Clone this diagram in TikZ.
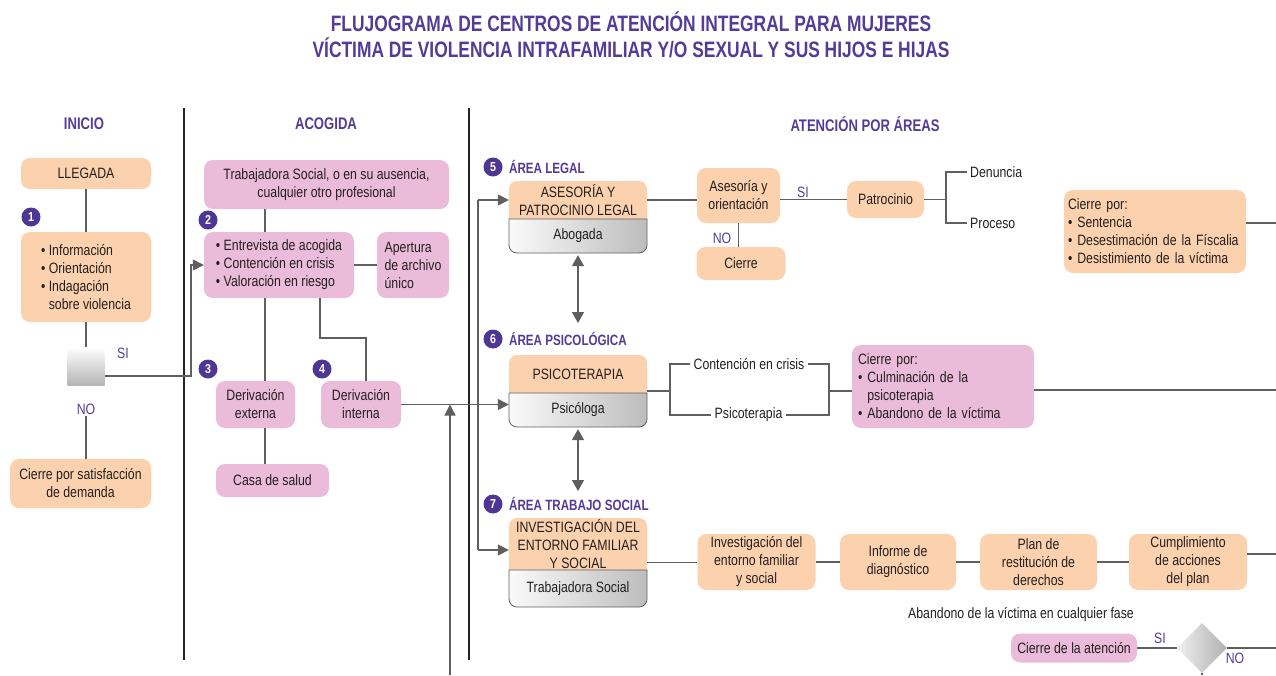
\documentclass[tikz,border=0pt]{standalone}
\usepackage{fontspec}
\setmainfont{Liberation Sans}[FakeStretch=0.82]
\newfontfamily\titlefont{Liberation Sans}[FakeStretch=0.78]
\usetikzlibrary{shapes.geometric,arrows.meta}
\definecolor{peachc}{RGB}{252,210,174}
\definecolor{pinkc}{RGB}{235,188,217}
\definecolor{purp}{RGB}{84,59,151}
\definecolor{circc}{RGB}{78,55,148}
\definecolor{linec}{RGB}{95,95,95}
\definecolor{sepc}{RGB}{35,35,35}
\definecolor{txtc}{RGB}{35,31,32}
\newcommand{\bodyfont}{\fontsize{15pt}{18pt}\selectfont}
\newcommand{\areabox}[8]{%
  \fill[peachc] (#2,#5) -- (#2,#4+8) arc[start angle=180,end angle=90,radius=8pt] -- (#3-8,#4) arc[start angle=90,end angle=0,radius=8pt] -- (#3,#5) -- cycle;
  \shadedraw[left color=gray!4, right color=gray!52, draw=gray!75!black, line width=0.8pt] (#2,#5) -- (#2,#6-8) arc[start angle=180,end angle=270,radius=8pt] -- (#3-8,#6) arc[start angle=270,end angle=360,radius=8pt] -- (#3,#5) -- cycle;
  \node[base, inner sep=0, minimum width={(#3-#2)*1pt}, minimum height={(#5-#4)*1pt}] (#1t) at ({(#2+#3)/2},{(#4+#5)/2}) {#7};
  \node[base, inner sep=0, minimum width={(#3-#2)*1pt}, minimum height={(#6-#5)*1pt}] (#1b) at ({(#2+#3)/2},{(#5+#6)/2}) {#8};
  \node[inner sep=0, minimum width={(#3-#2)*1pt}, minimum height={(#6-#4)*1pt}] (#1) at ({(#2+#3)/2},{(#4+#6)/2}) {};
}
\tikzset{
  base/.style={font=\bodyfont, text=txtc, align=center, inner sep=2pt},
  pbox/.style={base, fill=peachc, rounded corners=9pt},
  kbox/.style={base, fill=pinkc, rounded corners=9pt},
  num/.style={circle, fill=circc, text=white, font=\bfseries\fontsize{13pt}{13pt}\selectfont, minimum size=19pt, inner sep=0},
  lab/.style={font=\bodyfont, text=purp, inner sep=1pt},
  plain/.style={font=\bodyfont, text=txtc, inner sep=3pt},
  head/.style={font=\titlefont\bfseries\fontsize{16.8pt}{19pt}\selectfont, text=purp},
  area/.style={font=\titlefont\bfseries\fontsize{14.9pt}{17pt}\selectfont, text=purp, anchor=west, inner sep=0},
  conn/.style={draw=linec, line width=1.4pt},
  arr/.style={conn, -{Triangle[length=11pt,width=11pt]}},
  darr/.style={conn, {Triangle[length=11pt,width=12pt]}-{Triangle[length=11pt,width=12pt]}},
  sepline/.style={draw=sepc, line width=2pt},
}
\begin{document}
\begin{tikzpicture}[x=1pt,y=-1pt]
\useasboundingbox (0,0) rectangle (1276,675);
% title
\node[font=\titlefont\bfseries\fontsize{22.3pt}{26pt}\selectfont, text=purp, align=center] (title) at (631,35)
  {FLUJOGRAMA DE CENTROS DE ATENCIÓN INTEGRAL PARA MUJERES\\VÍCTIMA DE VIOLENCIA INTRAFAMILIAR Y/O SEXUAL Y SUS HIJOS E HIJAS};
% headers
\node[head] (h1) at (84,124) {INICIO};
\node[head] (h2) at (326,124) {ACOGIDA};
\node[head] (h3) at (865,124) {ATENCIÓN POR ÁREAS};
% separators
\draw[sepline] (184,108) -- (184,660);
\draw[sepline] (469,108) -- (469,660);

% ---------- INICIO
\node[pbox, minimum width=130pt, minimum height=31pt] (llegada) at (86,173.5) {LLEGADA};
\node[num] (n1) at (31,217) {1};
\node[pbox, minimum width=130pt, minimum height=90pt, align=left] (info) at (86,277)
  {\textbullet\ Información\\\textbullet\ Orientación\\\textbullet\ Indagación\\\phantom{\textbullet\ }sobre violencia};
\node[minimum width=37pt, minimum height=38pt, inner sep=0, top color=white, bottom color=gray!58] (dec) at (86,366) {};
\node[lab] (si1) at (123,353) {SI};
\node[lab] (no1) at (86,409) {NO};
\node[pbox, minimum width=141pt, minimum height=49pt] (cierre1) at (80.5,483.5) {Cierre por satisfacción\\de demanda};
\draw[conn] (llegada.south) -- (info.north);
\draw[conn] (info.south) -- (dec.north);
\draw[conn] (no1.south) -- (no1.south |- cierre1.north);

% ---------- ACOGIDA
\node[kbox, minimum width=245pt, minimum height=49pt] (trab) at (326.5,184.5) {Trabajadora Social, o en su ausencia,\\cualquier otro profesional};
\node[num] (n2) at (208,220) {2};
\node[kbox, minimum width=150pt, minimum height=66pt, align=left] (entrev) at (279,265)
  {\textbullet\ Entrevista de acogida\\\textbullet\ Contención en crisis\\\textbullet\ Valoración en riesgo};
\node[kbox, minimum width=72pt, minimum height=66pt, align=left] (apert) at (413,265) {Apertura\\de archivo\\único};
\node[num] (n3) at (208,369) {3};
\node[num] (n4) at (322,369) {4};
\node[kbox, minimum width=79pt, minimum height=47pt] (derext) at (255.5,404.5) {Derivación\\externa};
\node[kbox, minimum width=80pt, minimum height=47pt] (derint) at (361,404.5) {Derivación\\interna};
\node[kbox, minimum width=113pt, minimum height=33pt] (casa) at (272.5,480.5) {Casa de salud};
\coordinate (ax) at (265,300);
\coordinate (k1) at (320,338);
\coordinate (k2) at (366,338);
\draw[conn] (trab.south -| ax) -- (entrev.north -| ax);
\draw[conn] (entrev.south -| ax) -- (derext.north -| ax);
\draw[conn] (derext.south -| ax) -- (casa.north -| ax);
\draw[conn] (entrev.south -| k1) -- (k1) -- (k2) -- (derint.north -| k2);
\draw[conn] (entrev.east) -- (apert.west);
\draw[arr] ([yshift=-10pt]dec.east) -| ([xshift=-13pt]entrev.west) -- (entrev.west);

% ---------- AREAS
\node[num] (n5) at (493,167) {5};
\node[area] (l5) at (509,167) {ÁREA LEGAL};
\areabox{legal}{509}{647}{181}{219}{253}{ASESORÍA Y\\PATROCINIO LEGAL}{Abogada}
\node[num] (n6) at (493,339) {6};
\node[area] (l6) at (509,339) {ÁREA PSICOLÓGICA};
\areabox{psic}{509}{647}{355}{393}{427}{PSICOTERAPIA}{Psicóloga}
\node[num] (n7) at (493,504) {7};
\node[area] (l7) at (509,504) {ÁREA TRABAJO SOCIAL};
\areabox{soc}{509}{647}{518}{570}{607}{INVESTIGACIÓN DEL\\ENTORNO FAMILIAR\\Y SOCIAL}{Trabajadora Social}

\coordinate (vt) at (478,200);
\coordinate (vb) at (478,550);
\draw[conn] (vt) -- (vb);
\draw[arr] (vt) -- (vt -| legalt.west);
\draw[arr] (vb) -- (vb -| soct.west);
\draw[arr] (derint.east) -- (derint.east -| psicb.west);
\coordinate (up) at (450,675);
\draw[arr] (up) -- (up |- derint.east);
\coordinate (d1) at (578,323);
\coordinate (d2) at (578,491);
\draw[darr] ([yshift=-2pt]legal.south) -- (d1);
\draw[darr] ([yshift=-2pt]psic.south) -- (d2);

% legal flow
\node[pbox, minimum width=83pt, minimum height=55pt] (aso) at (738.5,195.5) {Asesoría y\\orientación};
\node[pbox, minimum width=77pt, minimum height=37pt] (patro) at (885.5,199.5) {Patrocinio};
\node[pbox, minimum width=89pt, minimum height=33pt] (cierreL) at (741,263.5) {Cierre};
\node[lab] (si2) at (803,192) {SI};
\node[lab] (no2) at (722,238) {NO};
\draw[conn] (legalt.east) -- (legalt.east -| aso.west);
\draw[conn] (aso.east |- patro.west) -- (patro.west);
\draw[conn] (aso.south) -- (aso.south |- cierreL.north);
\node[plain, anchor=west] (den) at (967,172) {Denuncia};
\node[plain, anchor=west] (proc) at (967,223) {Proceso};
\coordinate (pb) at (946,199.5);
\draw[conn] (patro.east) -- (pb);
\draw[conn] (den.west) -| (pb) |- (proc.west);
\node[pbox, minimum height=83pt, text width=174pt, inner xsep=4pt, align=left] (cierreLp) at (1155,231.5)
  {Cierre por:\\\textbullet\ Sentencia\\\textbullet\ Desestimación de la Físcalia\\\textbullet\ Desistimiento de la víctima};
\coordinate (eL) at (1276,223);
\draw[conn] (eL -| cierreLp.east) -- (eL);

% psych flow
\node[plain] (cc) at (749,364) {Contención en crisis};
\node[plain] (pt) at (748.5,415) {Psicoterapia};
\coordinate (pL) at (670,391);
\coordinate (pR) at (829,391);
\draw[conn] (psic.east) -- (pL);
\draw[conn] (cc.west) -| (pL) |- (pt.west);
\draw[conn] (cc.east) -| (pR) |- (pt.east);
\node[kbox, minimum height=83pt, text width=170pt, inner xsep=6pt, align=left] (cierreP) at (943,386.5)
  {Cierre por:\\\textbullet\ Culminación de la\\\phantom{\textbullet\ }psicoterapia\\\textbullet\ Abandono de la víctima};
\draw[conn] (pR) -- (pR -| cierreP.west);
\coordinate (eP) at (1276,390);
\draw[conn] (eP -| cierreP.east) -- (eP);

% social flow
\node[pbox, minimum width=118pt, minimum height=56pt] (inv) at (756.5,562) {Investigación del\\entorno familiar\\y social};
\node[pbox, minimum width=116pt, minimum height=56pt] (inf) at (898,562) {Informe de\\diagnóstico};
\node[pbox, minimum width=117pt, minimum height=56pt] (plan) at (1038.5,562) {Plan de\\restitución de\\derechos};
\node[pbox, minimum width=118pt, minimum height=56pt] (cump) at (1188,562) {Cumplimiento\\de acciones\\del plan};
\draw[conn] (soc.east) -- (soc.east -| inv.west);
\draw[conn] (inv.east) -- (inf.west);
\draw[conn] (inf.east) -- (plan.west);
\draw[conn] (plan.east) -- (cump.west);
\coordinate (eS) at (1276,554);
\draw[conn] (eS -| cump.east) -- (eS);

\node[plain] (aband) at (1021,615) {Abandono de la víctima en cualquier fase};
\node[kbox, minimum width=126pt, minimum height=29pt] (cierreA) at (1074,648) {Cierre de la atención};
\node[diamond, aspect=1, minimum width=50pt, minimum height=50pt, inner sep=0, left color=gray!12, right color=gray!62] (dia) at (1202,648) {};
\node[lab] (si3) at (1160,638) {SI};
\node[lab] (no3) at (1235,658) {NO};
\draw[conn] (cierreA.east) -- (dia.west);
\coordinate (eD) at (1276,648);
\draw[conn] (dia.east) -- (eD);
\coordinate (bD) at (1202,675);
\draw[conn] (dia.south) -- (bD);
\end{tikzpicture}
\end{document}
